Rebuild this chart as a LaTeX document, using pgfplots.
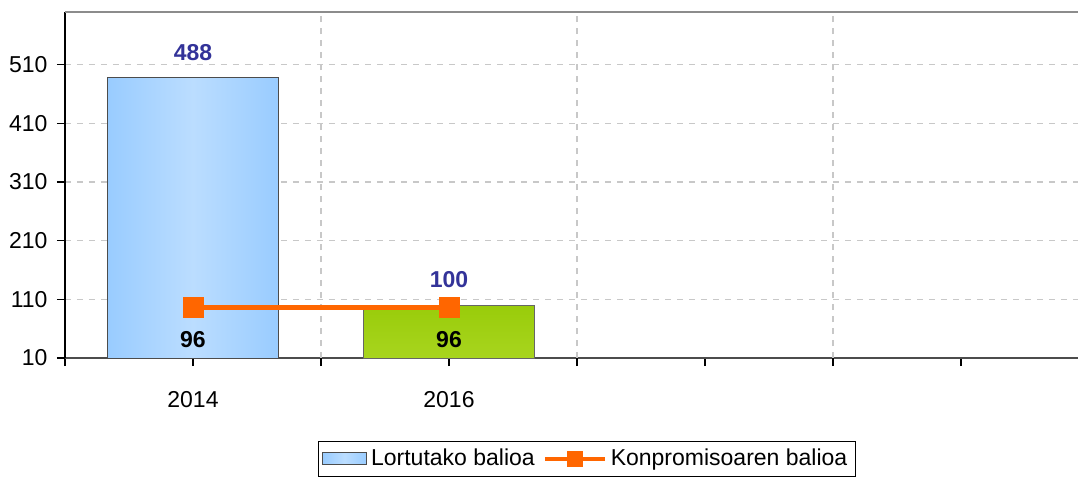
\documentclass[border=0pt]{standalone}
\usepackage{fontspec}
\setmainfont{Liberation Sans}
\usepackage{pgfplots}
\pgfplotsset{compat=1.18}

\definecolor{barblue}{RGB}{153,204,255}
\definecolor{barbluelight}{RGB}{187,221,255}
\definecolor{bargreen}{RGB}{153,204,10}
\definecolor{bargreenlight}{RGB}{168,213,30}
\definecolor{lineorange}{RGB}{255,102,0}
\definecolor{labelblue}{RGB}{51,51,153}
\definecolor{gridgray}{RGB}{200,200,200}

\pgfplotsset{
  barlegend/.style={legend image code/.code={\path[draw=black!70, line width=0.5pt,
    left color=barblue, right color=barblue, middle color=barbluelight]
    (0pt,-0.25em) rectangle (22pt,0.35em);}},
  linelegend/.style={legend image code/.code={\draw[##1, mark repeat=2, mark phase=2,
    line width=2pt, mark size=3pt] plot coordinates {(0pt,0pt) (15pt,0pt) (30pt,0pt)};}},
}

\begin{document}
\begin{tikzpicture}[font=\fontsize{11.5}{14}\selectfont]
\useasboundingbox (-32.5pt,-60pt) rectangle (506.5pt,179pt);
\begin{axis}[
  name=ax, at={(0,0)}, anchor=south west,
  scale only axis, width=506.5pt, height=173pt,
  xmin=-0.5, xmax=3.457,
  ymin=10, ymax=600,
  axis lines*=left, axis line style={-},
  x axis line style={line width=1pt, black!70},
  y axis line style={line width=0.7pt, black},
  tick align=outside,
  major tick length=4pt,
  minor tick length=4pt,
  tick style={black, line width=0.6pt},
  ytick={10,110,210,310,410,510},
  xtick={0,1,2,3},
  xticklabels={2014,2016,,},
  minor xtick={-0.5},
  extra x ticks={0.5,1.5,2.5},
  extra x tick labels={},
  extra x tick style={xmajorgrids=true},
  ymajorgrids=true,
  grid style={gridgray, line width=0.6pt, dash pattern=on 3pt off 3pt},
  tick label style={font=\fontsize{11.5}{14}\selectfont},
  /pgf/number format/assume math mode=true,
  yticklabel style={xshift=-1.2pt},
  xticklabel style={yshift=-9pt},
  legend style={at={(0.515,-0.292)}, anchor=center, legend columns=2,
    draw=black, line width=0.5pt, inner sep=2pt,
    font=\fontsize{11.5}{14}\selectfont,
    /tikz/every even column/.append style={column sep=2pt}},
]
\addplot[ybar, bar width=0.668, bar shift=0pt, draw=black!70, line width=0.5pt,
  left color=barblue, right color=barblue, middle color=barbluelight,
  nodes near coords,
  every node near coord/.append style={font=\bfseries\fontsize{11.5}{14}\selectfont,
    text=labelblue, yshift=5pt},
  barlegend]
  coordinates {(0,488)};
\addlegendentry{Lortutako balioa}
\addplot[ybar, bar width=0.668, bar shift=0pt, draw=black!60, line width=0.5pt,
  top color=bargreen, bottom color=bargreenlight, forget plot,
  nodes near coords,
  every node near coord/.append style={font=\bfseries\fontsize{11.5}{14}\selectfont,
    text=labelblue, yshift=5pt}]
  coordinates {(1,100)};
\addplot[lineorange, line width=2.5pt, mark=square*, mark size=4pt,
  mark options={solid, fill=lineorange},
  nodes near coords,
  every node near coord/.append style={anchor=center, yshift=-16pt,
    font=\bfseries\fontsize{11.5}{14}\selectfont, text=black},
  linelegend]
  coordinates {(0,96) (1,96)};
\addlegendentry{Konpromisoaren balioa}
\end{axis}
\draw[black!45, line width=1pt] (ax.north west) -- (ax.north east);
\end{tikzpicture}
\end{document}
